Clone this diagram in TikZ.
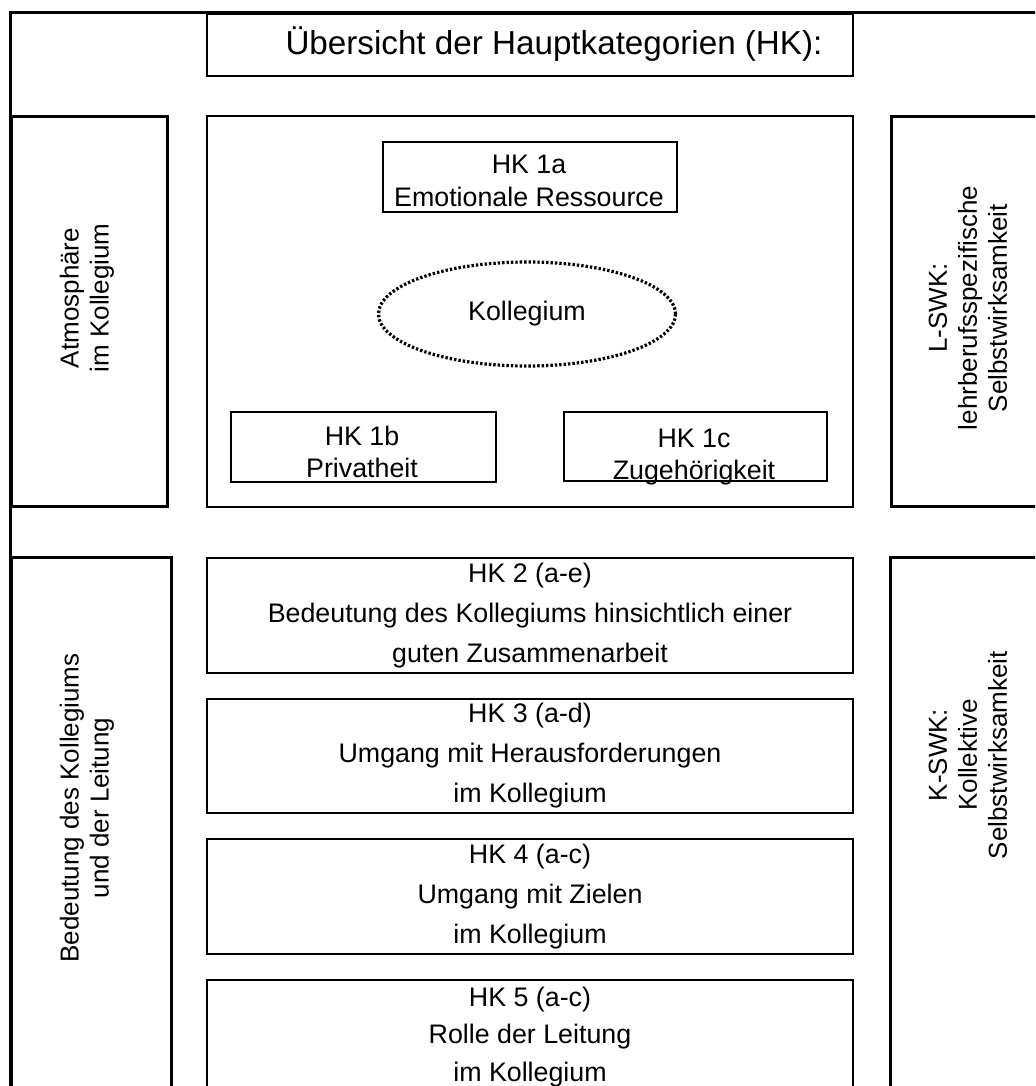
\documentclass[tikz,border=0pt]{standalone}
\usepackage{fontspec}
\setmainfont{Liberation Sans}
\usetikzlibrary{positioning, shapes.geometric}

\begin{document}
\begin{tikzpicture}[x=0.5pt, y=-0.5pt,
    frame/.style={draw, line width=1.5pt, anchor=north west, inner sep=0pt},
    hkbox/.style={draw, line width=1pt, anchor=north west, inner sep=0pt, align=center, font=\fontsize{13.4}{20}\selectfont},
    subtext/.style={align=center, inner sep=0pt, font=\fontsize{13.4}{16.4}\selectfont},
    sidetext/.style={rotate=90, align=center, font=\fontsize{13}{15}\selectfont}]
    \useasboundingbox (0,0) rectangle (1035,1086);
    \clip (0,0) rectangle (1035,1086);
    % outer frame
    \draw[line width=1.5pt] (10,1100) -- (10,13) -- (1045,13);
    \node[hkbox, minimum width=323pt, minimum height=31pt] (title) at (206,13) {};
    \node[font=\fontsize{16.6}{20}\selectfont] (titletext) at (554,44) {Übersicht der Hauptkategorien (HK):};
    % side frames
    \node[frame, minimum width=78pt, minimum height=195pt] (atmobox) at (10,115) {};
    \node[frame, minimum width=80pt, minimum height=272pt] (leitbox) at (10,556) {};
    \node[frame, minimum width=77.5pt, minimum height=195pt] (lswkbox) at (890,115) {};
    \node[frame, minimum width=78pt, minimum height=272pt] (kswkbox) at (889,556) {};
    \node[sidetext] (atmo) at (87,298) {Atmosphäre\\im Kollegium};
    \node[sidetext] (leit) at (87,808) {Bedeutung des Kollegiums\\und der Leitung};
    \node[sidetext] (lswk) at (968,308) {L-SWK:\\lehrberufsspezifische\\Selbstwirksamkeit};
    \node[sidetext] (kswk) at (968,755) {K-SWK:\\Kollektive\\Selbstwirksamkeit};
    % HK 1
    \node[hkbox, minimum width=323pt, minimum height=195.5pt] (hkone) at (206,115) {};
    \node[hkbox, minimum width=147pt, minimum height=35pt] (hkonea) at (382,141) {};
    \node[subtext] (hkoneatext) at (529,181) {HK 1a\\Emotionale Ressource};
    \node[draw, ellipse, line width=1.6pt, dash pattern=on 1.2pt off 1pt, minimum width=148.5pt, minimum height=52pt, font=\fontsize{13.4}{16}\selectfont] (koll) at (527,314) {Kollegium};
    \node[hkbox, minimum width=132.5pt, minimum height=35pt] (hkoneb) at (230,411) {};
    \node[subtext] (hkonebtext) at (362,452) {HK 1b\\Privatheit};
    \node[hkbox, minimum width=131.5pt, minimum height=34.5pt] (hkonec) at (563,411) {};
    \node[subtext] (hkonectext) at (694,457) {HK 1c\\Zugehörigkeit};
    % HK 2 - 5
    \node[hkbox, minimum width=323pt, minimum height=57.5pt] (hktwo) at (206,557) {HK 2 (a-e)\\Bedeutung des Kollegiums hinsichtlich einer\\guten Zusammenarbeit};
    \node[hkbox, minimum width=323pt, minimum height=57pt] (hkthree) at (206,698) {HK 3 (a-d)\\Umgang mit Herausforderungen\\im Kollegium};
    \node[hkbox, minimum width=323pt, minimum height=57.5pt] (hkfour) at (206,838) {HK 4 (a-c)\\Umgang mit Zielen\\im Kollegium};
    \node[hkbox, minimum width=323pt, minimum height=57pt, font=\fontsize{13.4}{18.8}\selectfont] (hkfive) at (206,979) {HK 5 (a-c)\\Rolle der Leitung\\im Kollegium};
\end{tikzpicture}
\end{document}
